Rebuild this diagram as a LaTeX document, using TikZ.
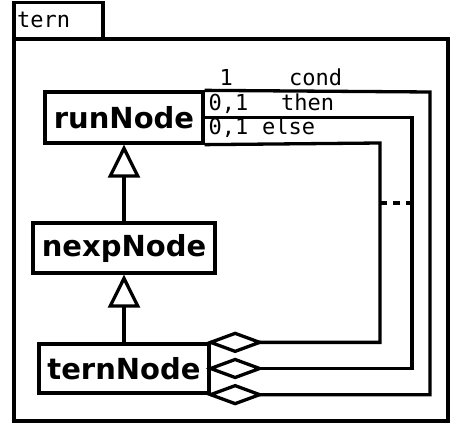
\documentclass[tikz,border=0pt]{standalone}
\usepackage{fontspec}
\setmainfont{DejaVu Sans}
\newfontfamily\monof{DejaVu Sans Mono}
\usetikzlibrary{arrows.meta}
\tikzset{
  cls/.style={draw, line width=3.3pt, inner sep=0pt, font=\fontsize{29}{33}\selectfont\bfseries},
  lbl/.style={anchor=base west, inner sep=0pt, font=\monof\fontsize{22}{26}\selectfont},
  agg/.style={line width=3.3pt},
  diam/.style={line width=3.3pt, fill=white, line join=miter},
  gen/.style={line width=3.3pt, -{Triangle[open, length=33pt, width=32pt]}},
  frameline/.style={line width=3.3pt},
  dashline/.style={line width=3.3pt, dash pattern=on 7pt off 6pt}
}
\begin{document}
\begin{tikzpicture}[x=1pt,y=-1pt]
\useasboundingbox (0,0) rectangle (461,425);
% package frame
\draw[frameline] (14,39) rectangle (103,2.5);
\draw[frameline] (14,39) rectangle (448,421);
\node[lbl] (tabname) at (17,28) {tern};
% classes
\node[cls, minimum width=158pt, minimum height=51pt] (runNode) at (124,117.5) {runNode};
\node[cls, minimum width=182pt, minimum height=50pt] (nexpNode) at (124,248) {nexpNode};
\node[cls, minimum width=170pt, minimum height=49pt] (ternNode) at (124,368.5) {ternNode};
% generalizations
\draw[gen] (nexpNode.north) -- (runNode.south);
\draw[gen] (ternNode.north) -- (nexpNode.south);
% aggregations
\coordinate (cElse) at (380,143);
\coordinate (cThen) at (412,117.5);
\coordinate (cCond) at (430,92);
\draw[agg] (ternNode.north east) -| (cElse) -- (runNode.south east);
\draw[agg] (ternNode.east) -| (cThen) -- (runNode.east);
\draw[agg] (ternNode.south east) -| (cCond) -- (runNode.north east);
\foreach \a in {north east, east, south east}{
  \draw[diam] (ternNode.\a) -- ++(24.5,-9) -- ++(24.5,9) -- ++(-24.5,9) -- cycle;
}
% dashed constraint
\coordinate (dA) at (380,203);
\coordinate (dB) at (412,203);
\draw[dashline] (dA) -- (dB);
% labels
\node[lbl] (m1) at (219.5,86) {1};
\node[lbl] (r1) at (289,86) {cond};
\node[lbl] (m2) at (208.5,111) {0,1};
\node[lbl] (r2) at (281,111) {then};
\node[lbl] (m3) at (208.5,135) {0,1};
\node[lbl] (r3) at (262,135) {else};
\end{tikzpicture}
\end{document}
